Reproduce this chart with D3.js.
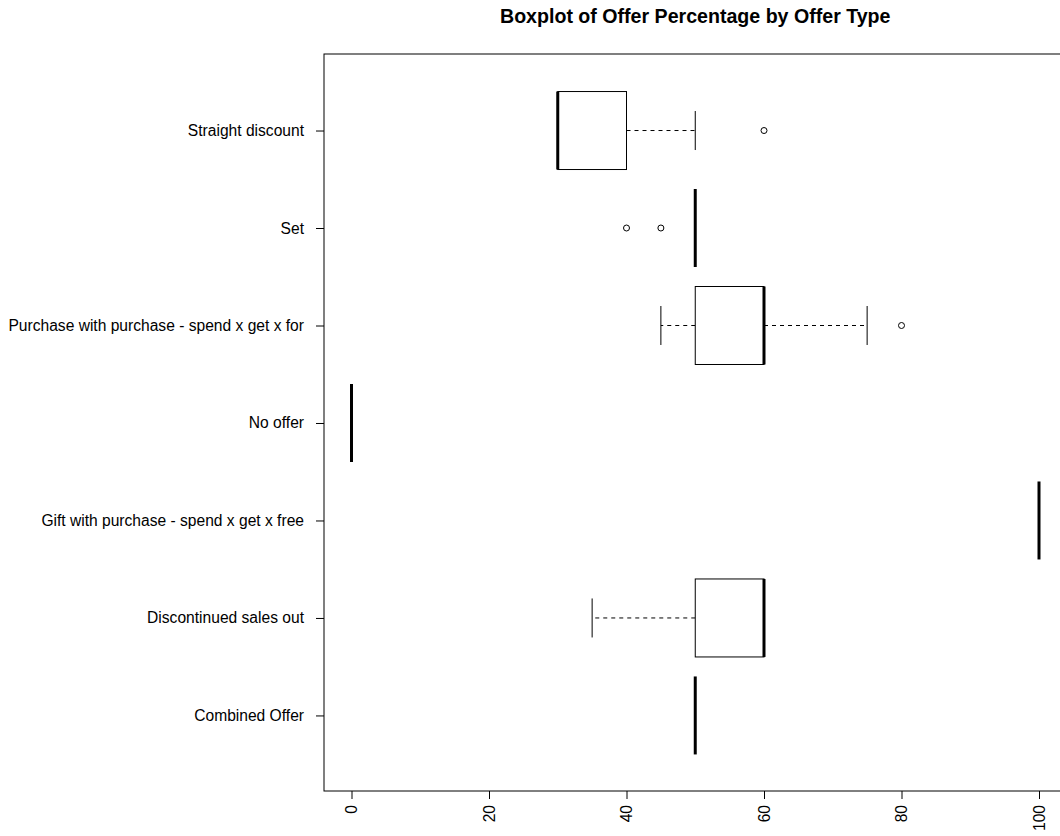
<!DOCTYPE html>
<html>
<head>
<meta charset="utf-8">
<script src="https://cdn.jsdelivr.net/npm/d3@7"></script>
<style>
  html, body { margin: 0; padding: 0; background: #fff; }
  svg { display: block; }
  text { font-family: "Liberation Sans", Arial, sans-serif; fill: #000; }
</style>
</head>
<body>
<svg id="chart" width="1060" height="836"></svg>
<script>
// Offer types, listed bottom to top as they appear on the y axis
const categories = [
  "Combined Offer",
  "Discontinued sales out",
  "Gift with purchase - spend x get x free",
  "No offer",
  "Purchase with purchase - spend x get x for",
  "Set",
  "Straight discount"
];

// Five-number summaries of offer percentage per offer type
const whiskerLow  = [50, 35, 100, 0, 45, 50, 30];
const quartile1   = [50, 50, 100, 0, 50, 50, 30];
const median      = [50, 60, 100, 0, 60, 50, 30];
const quartile3   = [50, 60, 100, 0, 60, 50, 40];
const whiskerHigh = [50, 60, 100, 0, 75, 50, 50];
const outliers    = [[], [], [], [], [80], [40, 45], [60]];

const xTicks = [0, 20, 40, 60, 80, 100];
const title = "Boxplot of Offer Percentage by Offer Type";

const svg = d3.select("#chart");
const labelSize = 15.6;

// Plot region (right side runs past the page edge)
const plotLeft = 324, plotTop = 54, plotBottom = 791;
const x = d3.scaleLinear().domain([-4, 104]).range([plotLeft, 1066.5]);
const y = d3.scaleLinear().domain([0.225, 7.785]).range([plotBottom, plotTop]);

const boxHalf = 0.4;     // half of box thickness, in category units
const stapleHalf = 0.2;  // half of whisker cap length

const data = categories.map((c, i) => ({
  name: c,
  pos: i + 1,
  lo: whiskerLow[i], q1: quartile1[i], med: median[i],
  q3: quartile3[i], hi: whiskerHigh[i], out: outliers[i]
}));

const g = svg.append("g");

data.forEach(d => {
  const b = g.append("g");
  // whiskers (dashed)
  b.append("line")
    .attr("x1", x(d.q3)).attr("x2", x(d.hi))
    .attr("y1", y(d.pos)).attr("y2", y(d.pos))
    .attr("stroke", "#000").attr("stroke-width", 1)
    .attr("stroke-dasharray", "4,4");
  b.append("line")
    .attr("x1", x(d.q1)).attr("x2", x(d.lo))
    .attr("y1", y(d.pos)).attr("y2", y(d.pos))
    .attr("stroke", "#000").attr("stroke-width", 1)
    .attr("stroke-dasharray", "4,4");
  // staples
  [d.lo, d.hi].forEach(v => {
    b.append("line")
      .attr("x1", x(v)).attr("x2", x(v))
      .attr("y1", y(d.pos - stapleHalf)).attr("y2", y(d.pos + stapleHalf))
      .attr("stroke", "#000").attr("stroke-width", 1);
  });
  // box
  b.append("rect")
    .attr("x", x(d.q1)).attr("width", x(d.q3) - x(d.q1))
    .attr("y", y(d.pos + boxHalf)).attr("height", y(d.pos - boxHalf) - y(d.pos + boxHalf))
    .attr("fill", "#fff").attr("stroke", "#000").attr("stroke-width", 1);
  // median
  b.append("line")
    .attr("x1", x(d.med)).attr("x2", x(d.med))
    .attr("y1", y(d.pos - boxHalf)).attr("y2", y(d.pos + boxHalf))
    .attr("stroke", "#000").attr("stroke-width", 3);
  // outliers
  b.selectAll("circle").data(d.out).join("circle")
    .attr("cx", v => x(v)).attr("cy", y(d.pos)).attr("r", 3)
    .attr("fill", "none").attr("stroke", "#000").attr("stroke-width", 1);
});

// frame
svg.append("rect")
  .attr("x", plotLeft).attr("y", plotTop)
  .attr("width", 1100 - plotLeft).attr("height", plotBottom - plotTop)
  .attr("fill", "none").attr("stroke", "#000").attr("stroke-width", 1);

// x axis with perpendicular labels
const xAxis = d3.axisBottom(x).tickValues(xTicks).tickSize(8).tickPadding(6).tickSizeOuter(0);
const xg = svg.append("g").attr("transform", `translate(0,${plotBottom})`).call(xAxis);
xg.select(".domain").remove();
xg.selectAll("text")
  .attr("font-size", labelSize)
  .attr("transform", "rotate(-90)")
  .attr("x", -14).attr("y", 0).attr("dy", "0.35em")
  .attr("text-anchor", "end")
  .style("font-family", "'Liberation Sans', Arial, sans-serif");

// y axis with category names
const yAxis = d3.axisLeft(y).tickValues(data.map(d => d.pos))
  .tickFormat(v => categories[v - 1]).tickSize(8).tickPadding(12).tickSizeOuter(0);
const yg = svg.append("g").attr("transform", `translate(${plotLeft},0)`).call(yAxis);
yg.select(".domain").remove();
yg.selectAll("text")
  .attr("font-size", labelSize)
  .style("font-family", "'Liberation Sans', Arial, sans-serif");

// title
svg.append("text")
  .attr("x", (plotLeft + 1066.5) / 2).attr("y", 23)
  .attr("text-anchor", "middle")
  .attr("font-size", 19.6).attr("font-weight", "bold")
  .text(title);
</script>
</body>
</html>
